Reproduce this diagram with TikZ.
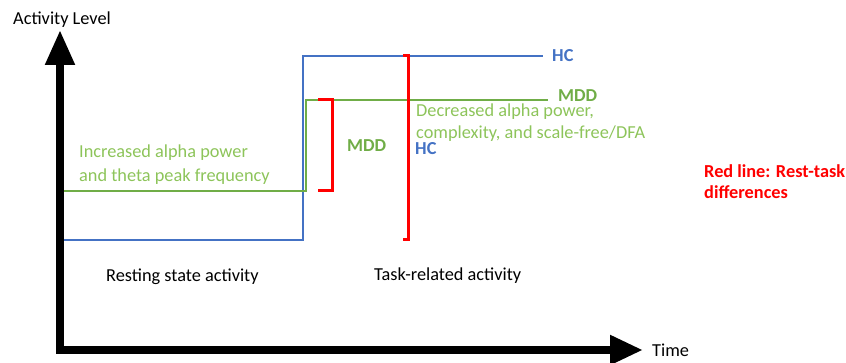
\documentclass[tikz,border=0pt]{standalone}
\usepackage{fontspec}
\setmainfont{Carlito}
\usetikzlibrary{arrows.meta}
\definecolor{hcblue}{HTML}{4472C4}
\definecolor{mddgreen}{HTML}{70AD47}
\definecolor{txtgreen}{HTML}{8DC45A}
\definecolor{redline}{HTML}{FF0000}
\tikzset{
  lbl/.style={anchor=base west, inner sep=0pt, font=\fontsize{18.3}{22}\selectfont},
  note/.style={anchor=base west, inner sep=0pt, font=\fontsize{18.3}{23}\selectfont, align=left},
  tag/.style={anchor=base west, inner sep=0pt, font=\fontsize{18.3}{21}\selectfont\bfseries},
  hcline/.style={draw=hcblue, line width=2pt},
  mddline/.style={draw=mddgreen, line width=2.2pt},
  bracket/.style={draw=redline, line width=3pt},
  axis/.style={line width=8pt, line join=miter, {Triangle[width=28pt,length=35pt]}-{Triangle[width=28pt,length=33pt]}}
}
\begin{document}
\begin{tikzpicture}[x=1pt,y=-1pt]
\useasboundingbox (0,0) rectangle (846,363);
% axes
\coordinate (ytop) at (60,30);
\coordinate (origin) at (60,350);
\coordinate (xend) at (643,350);
\draw[axis] (ytop) -- (origin) -- (xend);
\node[lbl] (ylab) at (13,25) {Activity Level};
\node[lbl] (xlab) at (652,356) {Time};
% HC line
\coordinate (hc0) at (64,240);
\coordinate (hc1) at (303,240);
\coordinate (hc2) at (303,56);
\coordinate (hc3) at (543,56);
\draw[hcline] (hc0) -- (hc1) -- (hc2) -- (hc3);
% MDD line
\coordinate (m0) at (64,191);
\coordinate (m1) at (306,191);
\coordinate (m2) at (306,100);
\coordinate (m3) at (548,100);
\draw[mddline] (m0) -- (m1) -- (m2) -- (m3);
% brackets
\draw[bracket] (318,100) -- (332,100) -- (332,191) -- (318,191);
\draw[bracket] (403,56) -- (408,56) -- (408,240) -- (403,240);
% labels
\node[tag, text=hcblue] (hcR) at (552,62) {HC};
\node[tag, text=mddgreen] (mddR) at (558,102) {MDD};
\node[tag, text=mddgreen] (mddM) at (347,152) {MDD};
\node[tag, text=hcblue] (hcM) at (415,155) {HC};
\node[note, text=txtgreen, font=\fontsize{18.3}{22}\selectfont] (dec) at (416,139) {Decreased alpha power,\\complexity, and scale-free/DFA};
\node[note, text=txtgreen, font=\fontsize{18.3}{24}\selectfont] (inc) at (79,182) {Increased alpha power\\and theta peak frequency};
\node[tag, text=redline, align=left] (red) at (704,199) {Red line: Rest-task\\differences};
\node[lbl] (rest) at (106,282) {Resting state activity};
\node[lbl] (task) at (374,281) {Task-related activity};
\end{tikzpicture}
\end{document}
